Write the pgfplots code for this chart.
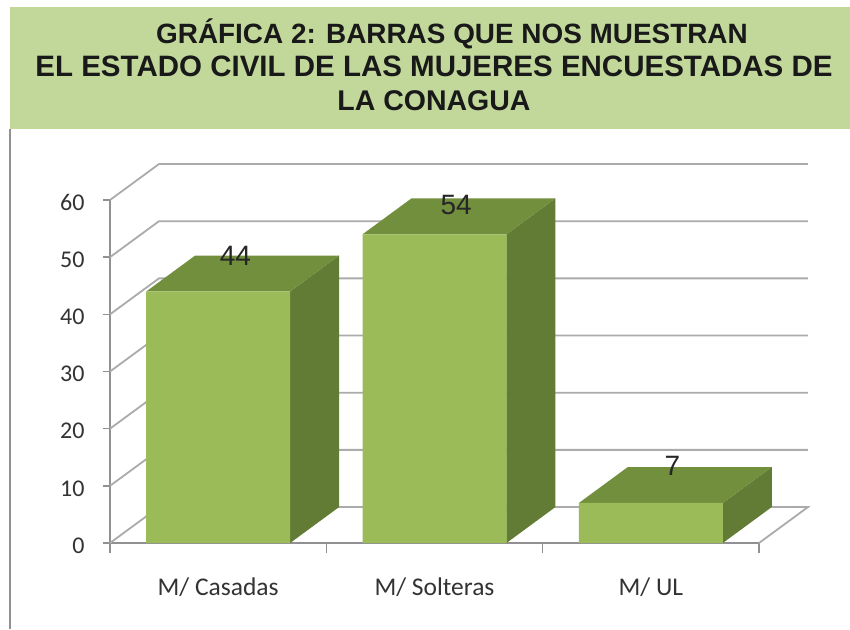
\documentclass[border=0pt]{standalone}
\usepackage{pgfplots}
\pgfplotsset{compat=1.18}
\usepackage{fontspec}
\setmainfont{Liberation Sans}
\newfontfamily\calib{Carlito}
\definecolor{band}{HTML}{C2D89B}
\definecolor{frontc}{HTML}{9ABB58}
\definecolor{topc}{HTML}{728F3E}
\definecolor{sidec}{HTML}{627C35}
\definecolor{gridc}{HTML}{ABABAE}
\definecolor{axc}{HTML}{919194}
\begin{document}
\begin{tikzpicture}[x=1pt,y=1pt]
\fill[white] (0,0) rectangle (850,629);
\fill[band] (10,500) rectangle (850,622);
\draw[axc,line width=1.2pt] (10,0) -- (10,500);
\node[align=center,font=\bfseries\fontsize{29.5}{33.5}\selectfont,text=black!90] at (434,564.5)
 {\hspace*{36pt}{\fontsize{27.9}{33.5}\selectfont GRÁFICA 2: BARRAS QUE NOS MUESTRAN}\\EL ESTADO CIVIL DE LAS MUJERES ENCUESTADAS DE\\{\fontsize{28.5}{33.5}\selectfont LA CONAGUA}};
\begin{axis}[
  at={(110pt,86pt)},anchor=south west,
  scale only axis,width=649pt,height=343pt,
  xmin=0.5,xmax=3.5,ymin=0,ymax=60,
  clip=false,
  axis x line=bottom,axis y line=left,
  axis line style={draw=axc,line width=1.8pt,-},
  every tick/.style={draw=axc,line width=1.6pt},
  xtick={1,2,3},xticklabels={M/ Casadas,M/ Solteras,M/ UL},
  minor xtick={0.5,1.5,2.5,3.5},
  major tick length=7pt,
  minor tick length=10pt,
  major x tick style={draw=none},
  ytick={0,10,20,30,40,50,60},
  tick align=outside,
  xticklabel style={font=\calib\fontsize{25.5}{25.5}\selectfont,text=black!80,yshift=-24pt},
  yticklabel style={font=\calib\fontsize{24}{24}\selectfont,text=black!80,xshift=-15pt,yshift=-2.5pt},
  /pgf/number format/assume math mode=true,
]
% back planes
\addplot[gridc,line width=1.8pt] coordinates {(0.5,0)(0.7263,6.29)(3.7263,6.29)(3.5,0)};
\addplot[gridc,line width=1.8pt] coordinates {(0.5,10)(0.7263,16.29)(3.7263,16.29)};
\addplot[gridc,line width=1.8pt] coordinates {(0.5,20)(0.7263,26.29)(3.7263,26.29)};
\addplot[gridc,line width=1.8pt] coordinates {(0.5,30)(0.7263,36.29)(3.7263,36.29)};
\addplot[gridc,line width=1.8pt] coordinates {(0.5,40)(0.7263,46.29)(3.7263,46.29)};
\addplot[gridc,line width=1.8pt] coordinates {(0.5,50)(0.7263,56.29)(3.7263,56.29)};
\addplot[gridc,line width=1.8pt] coordinates {(0.5,60)(0.7263,66.29)(3.7263,66.29)};
% side faces
\addplot[fill=sidec,draw=none] coordinates {(1.3326,0)(1.5589,6.29)(1.5589,50.29)(1.3326,44)} -- cycle;
\addplot[fill=sidec,draw=none] coordinates {(2.3326,0)(2.5589,6.29)(2.5589,60.29)(2.3326,54)} -- cycle;
\addplot[fill=sidec,draw=none] coordinates {(3.3326,0)(3.5589,6.29)(3.5589,13.29)(3.3326,7)} -- cycle;
% top faces
\addplot[fill=topc,draw=none] coordinates {(0.6674,44)(0.8937,50.29)(1.5589,50.29)(1.3326,44)} -- cycle;
\addplot[fill=topc,draw=none] coordinates {(1.6674,54)(1.8937,60.29)(2.5589,60.29)(2.3326,54)} -- cycle;
\addplot[fill=topc,draw=none] coordinates {(2.6674,7)(2.8937,13.29)(3.5589,13.29)(3.3326,7)} -- cycle;
% front faces
\addplot[ybar,bar width=144pt,fill=frontc,draw=none] coordinates {(1,44)(2,54)(3,7)};
% data labels
\addplot[draw=none,mark=none,point meta=explicit symbolic,
  nodes near coords,
  nodes near coords style={anchor=center,font=\fontsize{28}{28}\selectfont,text=black!85}]
  coordinates {(1.08,50.2)[44] (2.1,59.1)[54] (3.1,13.5)[7]};
\end{axis}
\end{tikzpicture}
\end{document}
